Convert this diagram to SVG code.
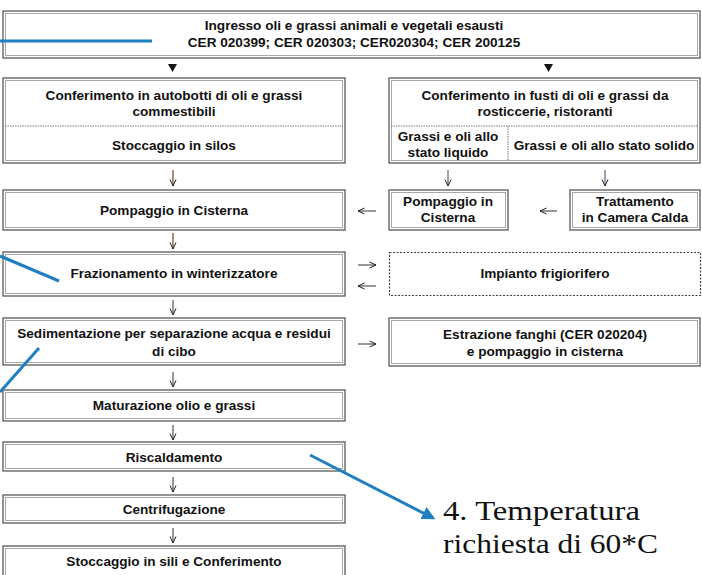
<svg xmlns="http://www.w3.org/2000/svg" width="702" height="575" viewBox="0 0 702 575">
<defs>
<style>
.bx{fill:#fff;stroke:#5a5a5a;stroke-width:1.3}
.bi{fill:none;stroke:#a8a8a8;stroke-width:1}
.dv{stroke:#777;stroke-width:1;stroke-dasharray:1.5 1}
.dash{fill:#fff;stroke:#444;stroke-width:1.2;stroke-dasharray:2 1.5}
.t{font-family:"Liberation Sans",Arial,sans-serif;font-weight:bold;font-size:13.6px;fill:#111;text-anchor:middle}
.ar{stroke:#333;stroke-width:1;fill:none}
.ar2{stroke:#7a3b2e;stroke-width:1.2;fill:none}
.ar3{stroke:#3a4660;stroke-width:1;fill:none}
.bl{stroke:#1f7fc0;stroke-width:3;fill:none;stroke-linecap:butt}
.note{font-family:"Liberation Serif","DejaVu Serif",serif;font-size:28px;fill:#111}
</style>
<marker id="h" viewBox="0 0 8 8" refX="7.5" refY="4" markerWidth="8" markerHeight="8" markerUnits="userSpaceOnUse" orient="auto">
<path d="M1,1 L7.5,4 L1,7" fill="none" stroke="#222" stroke-width="1"/>
</marker>
<marker id="bh" viewBox="0 0 10 10" refX="8" refY="5" markerWidth="4.5" markerHeight="4.5" orient="auto">
<path d="M0,0 L10,5 L0,10 z" fill="#1f7fc0"/>
</marker>
</defs>
<rect width="702" height="575" fill="#fff"/>

<g id="n-ingresso">
<rect class="bx" x="3" y="11" width="697" height="47"/><rect class="bi" x="5.5" y="13.5" width="692" height="42"/>
<text class="t" x="354" y="30">Ingresso oli e grassi animali e vegetali esausti</text>
<text class="t" x="354" y="47">CER 020399; CER 020303; CER020304; CER 200125</text>
</g>

<g id="n-autobotti">
<rect class="bx" x="3" y="78" width="342" height="85"/><rect class="bi" x="5.5" y="80.5" width="337" height="80"/>
<line class="dv" x1="5" y1="126" x2="343" y2="126"/>
<text class="t" x="174" y="100">Conferimento in autobotti di oli e grassi</text>
<text class="t" x="174" y="116">commestibili</text>
<text class="t" x="174" y="150">Stoccaggio in silos</text>
</g>

<g id="n-fusti">
<rect class="bx" x="389" y="78" width="311" height="85"/><rect class="bi" x="391.5" y="80.5" width="306" height="80"/>
<line class="dv" x1="391" y1="126" x2="698" y2="126"/>
<line class="dv" x1="508" y1="126" x2="508" y2="161"/>
<text class="t" x="545" y="100">Conferimento in fusti di oli e grassi da</text>
<text class="t" x="545" y="116">rosticcerie, ristoranti</text>
<text class="t" x="448" y="141">Grassi e oli allo</text>
<text class="t" x="448" y="157">stato liquido</text>
<text class="t" x="604" y="150">Grassi e oli allo stato solido</text>
</g>

<g id="n-pompaggio">
<rect class="bx" x="3" y="190" width="342" height="40"/><rect class="bi" x="5.5" y="192.5" width="337" height="35"/>
<text class="t" x="174" y="215">Pompaggio in Cisterna</text>
</g>

<g id="n-pompaggio-r">
<rect class="bx" x="389" y="190" width="119" height="40"/><rect class="bi" x="391.5" y="192.5" width="114" height="35"/>
<text class="t" x="448" y="206">Pompaggio in</text>
<text class="t" x="448" y="222">Cisterna</text>
</g>

<g id="n-trattamento">
<rect class="bx" x="570" y="190" width="130" height="40"/><rect class="bi" x="572.5" y="192.5" width="125" height="35"/>
<text class="t" x="635" y="206">Trattamento</text>
<text class="t" x="635" y="222">in Camera Calda</text>
</g>

<g id="n-frazionamento">
<rect class="bx" x="3" y="252" width="342" height="44"/><rect class="bi" x="5.5" y="254.5" width="337" height="39"/>
<text class="t" x="174" y="278">Frazionamento in winterizzatore</text>
</g>

<g id="n-frigorifero">
<rect class="dash" x="389.5" y="252.5" width="311" height="43"/>
<text class="t" x="545" y="278">Impianto frigiorifero</text>
</g>

<g id="n-sedimentazione">
<rect class="bx" x="3" y="318" width="342" height="47"/><rect class="bi" x="5.5" y="320.5" width="337" height="42"/>
<text class="t" x="174" y="338">Sedimentazione per separazione acqua e residui</text>
<text class="t" x="174" y="356">di cibo</text>
</g>

<g id="n-estrazione">
<rect class="bx" x="389" y="318" width="311" height="48"/><rect class="bi" x="391.5" y="320.5" width="306" height="43"/>
<text class="t" x="545" y="339">Estrazione fanghi (CER 020204)</text>
<text class="t" x="545" y="356">e pompaggio in cisterna</text>
</g>

<g id="n-maturazione">
<rect class="bx" x="3" y="390" width="342" height="31"/><rect class="bi" x="5.5" y="392.5" width="337" height="26"/>
<text class="t" x="174" y="410">Maturazione olio e grassi</text>
</g>

<g id="n-riscaldamento">
<rect class="bx" x="3" y="442" width="342" height="29"/><rect class="bi" x="5.5" y="444.5" width="337" height="24"/>
<text class="t" x="174" y="462">Riscaldamento</text>
</g>

<g id="n-centrifugazione">
<rect class="bx" x="3" y="495" width="342" height="28"/><rect class="bi" x="5.5" y="497.5" width="337" height="23"/>
<text class="t" x="174" y="514">Centrifugazione</text>
</g>

<g id="n-stoccaggio">
<rect class="bx" x="3" y="546" width="342" height="34"/><rect class="bi" x="5.5" y="548.5" width="337" height="30"/>
<text class="t" x="174" y="566">Stoccaggio in sili e Conferimento</text>
</g>

<g id="connectors">
<path d="M168,64 L177,64 L172.5,72 z" fill="#111"/>
<path d="M544,64 L553,64 L548.5,72 z" fill="#111"/>
<line class="ar2" x1="173" y1="170" x2="173" y2="186" marker-end="url(#h)"/>
<line class="ar2" x1="173" y1="233" x2="173" y2="249" marker-end="url(#h)"/>
<line class="ar3" x1="448" y1="170" x2="448" y2="186" marker-end="url(#h)"/>
<line class="ar3" x1="605" y1="170" x2="605" y2="186" marker-end="url(#h)"/>
<line class="ar" x1="376" y1="211" x2="358" y2="211" marker-end="url(#h)"/>
<line class="ar" x1="557" y1="211" x2="540" y2="211" marker-end="url(#h)"/>
<line class="ar" x1="358" y1="265" x2="376" y2="265" marker-end="url(#h)"/>
<line class="ar" x1="376" y1="286" x2="358" y2="286" marker-end="url(#h)"/>
<line class="ar" x1="173" y1="300" x2="173" y2="315" marker-end="url(#h)"/>
<line class="ar" x1="358" y1="344" x2="376" y2="344" marker-end="url(#h)"/>
<line class="ar" x1="173" y1="372" x2="173" y2="387" marker-end="url(#h)"/>
<line class="ar" x1="173" y1="425" x2="173" y2="440" marker-end="url(#h)"/>
<line class="ar" x1="173" y1="477" x2="173" y2="492" marker-end="url(#h)"/>
<line class="ar" x1="173" y1="528" x2="173" y2="543" marker-end="url(#h)"/>
</g>

<g id="annotations">
<line class="bl" x1="0" y1="41" x2="152" y2="41"/>
<line class="bl" x1="0" y1="256" x2="59" y2="281"/>
<line class="bl" x1="0" y1="392" x2="39" y2="348"/>
<line class="bl" x1="310" y1="455" x2="433" y2="518" marker-end="url(#bh)"/>
<text class="note" x="443" y="520" textLength="197" lengthAdjust="spacingAndGlyphs">4. Temperatura</text>
<text class="note" x="443" y="553" textLength="215" lengthAdjust="spacingAndGlyphs">richiesta di 60*C</text>
</g>
</svg>
